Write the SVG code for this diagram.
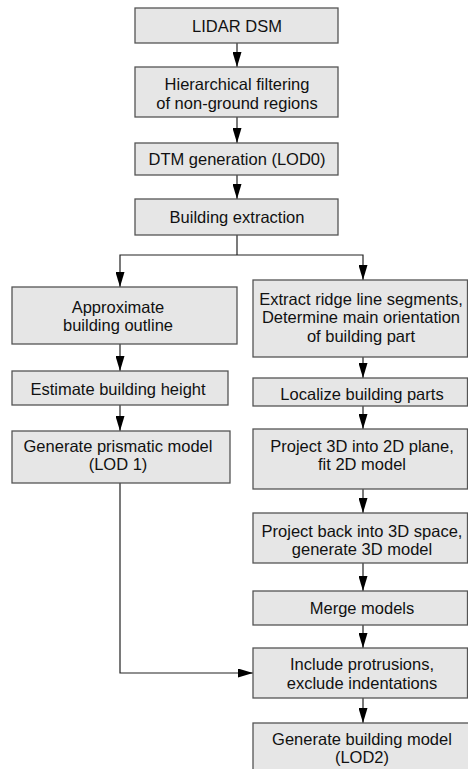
<svg xmlns="http://www.w3.org/2000/svg" width="468" height="769" viewBox="0 0 468 769">
<style>
.box{fill:#e6e6e6;stroke:#555;stroke-width:1.3}
.t{font-family:"Liberation Sans",Arial,sans-serif;font-size:16.5px;fill:#111;text-anchor:middle}
.c{fill:none;stroke:#222;stroke-width:1.2}
</style>
<defs>
<marker id="ah" markerUnits="userSpaceOnUse" markerWidth="15" markerHeight="9" refX="15" refY="4.5" orient="auto">
<path d="M0,0 L15,4.5 L0,9 z" fill="#000"/>
</marker>
</defs>
<rect width="468" height="769" fill="#fff"/>
<g id="connectors">
<path class="c" d="M237,43 V67" marker-end="url(#ah)"/>
<path class="c" d="M237,117 V143" marker-end="url(#ah)"/>
<path class="c" d="M237,175 V199" marker-end="url(#ah)"/>
<path class="c" d="M237,235 V255"/>
<path class="c" d="M237,255 H120 V287" marker-end="url(#ah)"/>
<path class="c" d="M237,255 H363 V280" marker-end="url(#ah)"/>
<path class="c" d="M120,344 V371" marker-end="url(#ah)"/>
<path class="c" d="M120,405 V431" marker-end="url(#ah)"/>
<path class="c" d="M120,483 V673 H253" marker-end="url(#ah)"/>
<path class="c" d="M363,357 V378" marker-end="url(#ah)"/>
<path class="c" d="M363,406 V429" marker-end="url(#ah)"/>
<path class="c" d="M363,489 V513" marker-end="url(#ah)"/>
<path class="c" d="M363,563 V591" marker-end="url(#ah)"/>
<path class="c" d="M363,625 V648" marker-end="url(#ah)"/>
<path class="c" d="M363,698 V723" marker-end="url(#ah)"/>
</g>
<g id="n1"><rect class="box" x="135" y="8" width="203" height="35"/><text class="t" x="237" y="31.5">LIDAR DSM</text></g>
<g id="n2"><rect class="box" x="135" y="67" width="203" height="50"/><text class="t" x="237" y="90">Hierarchical filtering</text><text class="t" x="237" y="108.5">of non-ground regions</text></g>
<g id="n3"><rect class="box" x="135" y="143" width="203" height="32"/><text class="t" x="237" y="165">DTM generation (LOD0)</text></g>
<g id="n4"><rect class="box" x="135" y="199" width="203" height="36"/><text class="t" x="237" y="223">Building extraction</text></g>
<g id="n5"><rect class="box" x="12" y="287" width="225" height="57"/><text class="t" x="118" y="313">Approximate</text><text class="t" x="118" y="331">building outline</text></g>
<g id="n6"><rect class="box" x="12" y="371" width="216" height="34"/><text class="t" x="118" y="395">Estimate building height</text></g>
<g id="n7"><rect class="box" x="12" y="431" width="218" height="52"/><text class="t" x="118" y="452">Generate prismatic model</text><text class="t" x="118" y="470">(LOD 1)</text></g>
<g id="n8"><rect class="box" x="253" y="280" width="214.5" height="77"/><text class="t" x="361" y="305">Extract ridge line segments,</text><text class="t" x="361" y="323.3">Determine main orientation</text><text class="t" x="361" y="341.6">of building part</text></g>
<g id="n9"><rect class="box" x="253" y="378" width="214.5" height="28"/><text class="t" x="362" y="400">Localize building parts</text></g>
<g id="n10"><rect class="box" x="253" y="429" width="214.5" height="60"/><text class="t" x="362" y="452">Project 3D into 2D plane,</text><text class="t" x="362" y="470">fit 2D model</text></g>
<g id="n11"><rect class="box" x="253" y="513" width="214.5" height="50"/><text class="t" x="362" y="537">Project back into 3D space,</text><text class="t" x="362" y="555">generate 3D model</text></g>
<g id="n12"><rect class="box" x="253" y="591" width="214.5" height="34"/><text class="t" x="362" y="613.5">Merge models</text></g>
<g id="n13"><rect class="box" x="253" y="648" width="214.5" height="50"/><text class="t" x="362" y="670">Include protrusions,</text><text class="t" x="362" y="688.5">exclude indentations</text></g>
<g id="n14"><rect class="box" x="253" y="723" width="216" height="52"/><text class="t" x="362" y="745">Generate building model</text><text class="t" x="362" y="763">(LOD2)</text></g>
</svg>
